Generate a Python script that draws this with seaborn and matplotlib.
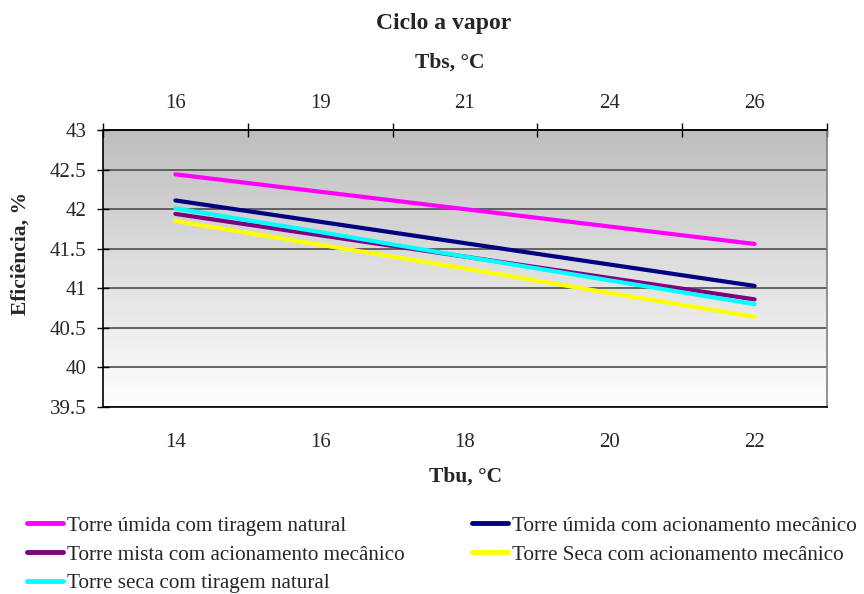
import numpy as np
import pandas as pd
import matplotlib
matplotlib.use("Agg")
import matplotlib.pyplot as plt
from matplotlib.colors import LinearSegmentedColormap
from matplotlib.ticker import FixedLocator
import seaborn as sns

# --- data ---
TBU = ["14", "16", "18", "20", "22"]
TBS = ["16", "19", "21", "24", "26"]

umida_natural  = [42.44, 42.22, 42.00, 41.78, 41.56]
umida_mecanico = [42.11, 41.84, 41.57, 41.30, 41.03]
mista_mecanico = [41.94, 41.67, 41.40, 41.13, 40.86]
seca_natural   = [42.01, 41.71, 41.40, 41.10, 40.80]
seca_mecanico  = [41.85, 41.55, 41.25, 40.94, 40.64]

SERIES = {
    "Torre úmida com tiragem natural": umida_natural,
    "Torre mista com acionamento mecânico": mista_mecanico,
    "Torre seca com tiragem natural": seca_natural,
    "Torre úmida com acionamento mecânico": umida_mecanico,
    "Torre Seca com acionamento mecânico": seca_mecanico,
}
COLORS = ["#FF00FF", "#800080", "#00FFFF", "#000080", "#FFFF00"]

df = pd.DataFrame(
    [(name, t, v) for name, vals in SERIES.items() for t, v in zip(TBU, vals)],
    columns=["Torre", "Tbu", "Eficiencia"],
)

sns.set_style("white")
plt.rcParams["font.family"] = ["Liberation Serif", "DejaVu Serif"]
FS = 15
LFS = 15.2

fig = plt.figure(figsize=(8.64, 5.94), dpi=100)
ax = fig.add_axes([103 / 864, 1 - 407 / 594, 724 / 864, 277 / 594])

# gray -> white plot area gradient
cmap = LinearSegmentedColormap.from_list("bg", ["#ffffff", "#bebebe"])
ax.imshow(np.linspace(0, 1, 256).reshape(-1, 1), cmap=cmap, origin="lower",
          extent=[0, 1, 0, 1], transform=ax.transAxes, aspect="auto", zorder=0)

sns.lineplot(data=df, x="Tbu", y="Eficiencia", hue="Torre", palette=COLORS,
             linewidth=3, sort=False, legend=False, ax=ax, zorder=3)

ax.set_xlim(-0.5, 4.5)
ax.set_ylim(39.5, 43)
yt = np.arange(39.5, 43.01, 0.5)
ax.set_yticks(yt)
ax.set_yticklabels([f"{v:g}" for v in yt], fontsize=FS)
ax.yaxis.grid(True, color="#4d4d4d", linewidth=1.2)
ax.set_axisbelow(True)

ax.xaxis.set_major_locator(FixedLocator(range(5)))
ax.set_xticklabels(TBU, fontsize=FS)
ax.xaxis.set_minor_locator(FixedLocator(np.arange(-0.5, 4.6, 1)))
ax.tick_params(axis="x", which="major", length=0, pad=19)
ax.tick_params(axis="x", which="minor", direction="inout", length=10, width=1, color="black")
ax.tick_params(axis="y", direction="inout", length=9, width=1, color="black", pad=7.5, left=True)
ax.set_xlabel("")
ax.set_ylabel("")

for s in ["left", "bottom", "top"]:
    ax.spines[s].set_color("black")
    ax.spines[s].set_linewidth(1.2)
ax.spines["right"].set_color("#808080")
ax.spines["right"].set_linewidth(1.2)

top = ax.secondary_xaxis("top")
top.xaxis.set_major_locator(FixedLocator(range(5)))
top.set_xticklabels(TBS, fontsize=FS)
top.xaxis.set_minor_locator(FixedLocator(np.arange(-0.5, 4.6, 1)))
top.tick_params(axis="x", which="major", length=0, pad=12)
top.tick_params(axis="x", which="minor", direction="inout", length=10, width=1, color="black")
top.spines["top"].set_linewidth(1.2)

fig.text(444 / 864, 1 - 24 / 594, "Ciclo a vapor", ha="center", va="center",
         fontsize=17, fontweight="bold")
fig.text(450 / 864, 1 - 63 / 594, "Tbs, °C", ha="center", va="center",
         fontsize=15.5, fontweight="bold")
fig.text(466 / 864, 1 - 477 / 594, "Tbu, °C", ha="center", va="center",
         fontsize=15.5, fontweight="bold")
fig.text(21 / 864, 1 - 254 / 594, "Eficiência, %", ha="center", va="center",
         rotation=90, fontsize=15.5, fontweight="bold")

handles = [plt.Line2D([], [], color=c, linewidth=3.5) for c in COLORS]
fig.legend(handles, list(SERIES.keys()), ncol=2, loc="upper left",
           bbox_to_anchor=(27 / 864, 1 - 516 / 594), frameon=False, fontsize=LFS,
           handlelength=1.7, handletextpad=0.19, columnspacing=3.2,
           labelspacing=0.43, borderpad=0, borderaxespad=0)

fig.savefig("out.png", dpi=100)
